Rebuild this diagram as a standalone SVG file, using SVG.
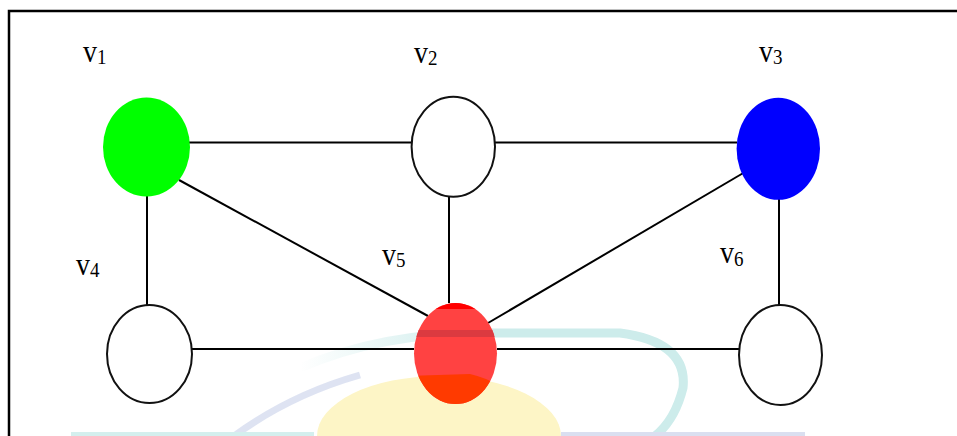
<svg xmlns="http://www.w3.org/2000/svg" width="957" height="436" viewBox="0 0 957 436">
<defs>
<style>
.edge{stroke:#000;stroke-width:2;fill:none}
.node{stroke:#111;stroke-width:2}
.lbl{font-family:"Liberation Serif","Times New Roman",serif;font-size:28px;fill:#000}
.sub{font-size:19px}
</style>
<clipPath id="c5"><ellipse cx="455.5" cy="353.5" rx="41.5" ry="50.5"/></clipPath>
<linearGradient id="fadeL" x1="300" y1="0" x2="480" y2="0" gradientUnits="userSpaceOnUse">
<stop offset="0" stop-color="#cdeceb" stop-opacity="0"/>
<stop offset="1" stop-color="#cdeceb" stop-opacity="1"/>
</linearGradient>
</defs>
<rect width="957" height="436" fill="#fff"/>
<g id="watermark">
<path d="M317,436 A122,60 0 0 1 561,436 Z" fill="#fdf5c6"/>
<path d="M300,368 Q380,333 480,333" fill="none" stroke="url(#fadeL)" stroke-width="9"/>
<path d="M480,333 L620,333 Q688,342 683,388 Q675,420 655,436" fill="none" stroke="#cdeceb" stroke-width="9"/>
<path d="M234,436 Q290,395 360,375" fill="none" stroke="#d6dcef" stroke-width="7" opacity="0.8"/>
<rect x="71" y="432" width="243" height="4" fill="#d4efee"/>
<rect x="561" y="432" width="244" height="4" fill="#dadff0"/>
</g>
<rect id="frame" x="9" y="11" width="1000" height="500" fill="none" stroke="#000" stroke-width="2.5"/>
<g id="connectors">
<line class="edge" x1="189" y1="142.5" x2="412" y2="142.5"/>
<line class="edge" x1="495" y1="142.5" x2="737" y2="142.5"/>
<line class="edge" x1="147" y1="196" x2="147" y2="305"/>
<line class="edge" x1="179" y1="180" x2="428" y2="316"/>
<line class="edge" x1="449" y1="196" x2="449" y2="303"/>
<line class="edge" x1="745" y1="172" x2="488" y2="323"/>
<line class="edge" x1="779" y1="199" x2="779" y2="305"/>
<line class="edge" x1="192" y1="349" x2="414" y2="349" stroke="#333"/>
<line class="edge" x1="497" y1="349" x2="739" y2="349" stroke="#333"/>
</g>
<g id="v1">
<ellipse cx="146.5" cy="147" rx="43.5" ry="49.5" fill="#00ff00"/>
<text class="lbl" transform="translate(83,62) scale(1,1.15)">v<tspan class="sub" dy="2">1</tspan></text>
</g>
<g id="v2">
<ellipse class="node" cx="453.3" cy="146.7" rx="41.7" ry="50" fill="#fff"/>
<text class="lbl" transform="translate(414,62.5) scale(1,1.15)">v<tspan class="sub" dy="2">2</tspan></text>
</g>
<g id="v3">
<ellipse cx="778.3" cy="148.8" rx="41.7" ry="51" fill="#0000ff"/>
<text class="lbl" transform="translate(759,62) scale(1,1.15)">v<tspan class="sub" dy="2">3</tspan></text>
</g>
<g id="v4">
<ellipse class="node" cx="149.5" cy="354" rx="42.5" ry="49" fill="#fff" stroke="#333"/>
<text class="lbl" transform="translate(76,275) scale(1,1.15)">v<tspan class="sub" dy="2">4</tspan></text>
</g>
<g id="v5">
<ellipse cx="455.5" cy="353.5" rx="41.5" ry="50.5" fill="#ff4242"/>
<g clip-path="url(#c5)">
<rect x="410" y="300" width="95" height="9" fill="#ff0000"/>
<rect x="405" y="330" width="100" height="7" fill="#db3a40"/>
<path d="M405,376 L470,374 Q495,380 505,392 L505,410 L405,410 Z" fill="#ff3a00"/>
</g>
<text class="lbl" transform="translate(382,265) scale(1,1.15)">v<tspan class="sub" dy="2">5</tspan></text>
</g>
<g id="v6">
<ellipse class="node" cx="780.5" cy="355" rx="41.5" ry="50" fill="#fff" stroke="#222"/>
<text class="lbl" transform="translate(720,263) scale(1,1.15)">v<tspan class="sub" dy="3">6</tspan></text>
</g>
</svg>
